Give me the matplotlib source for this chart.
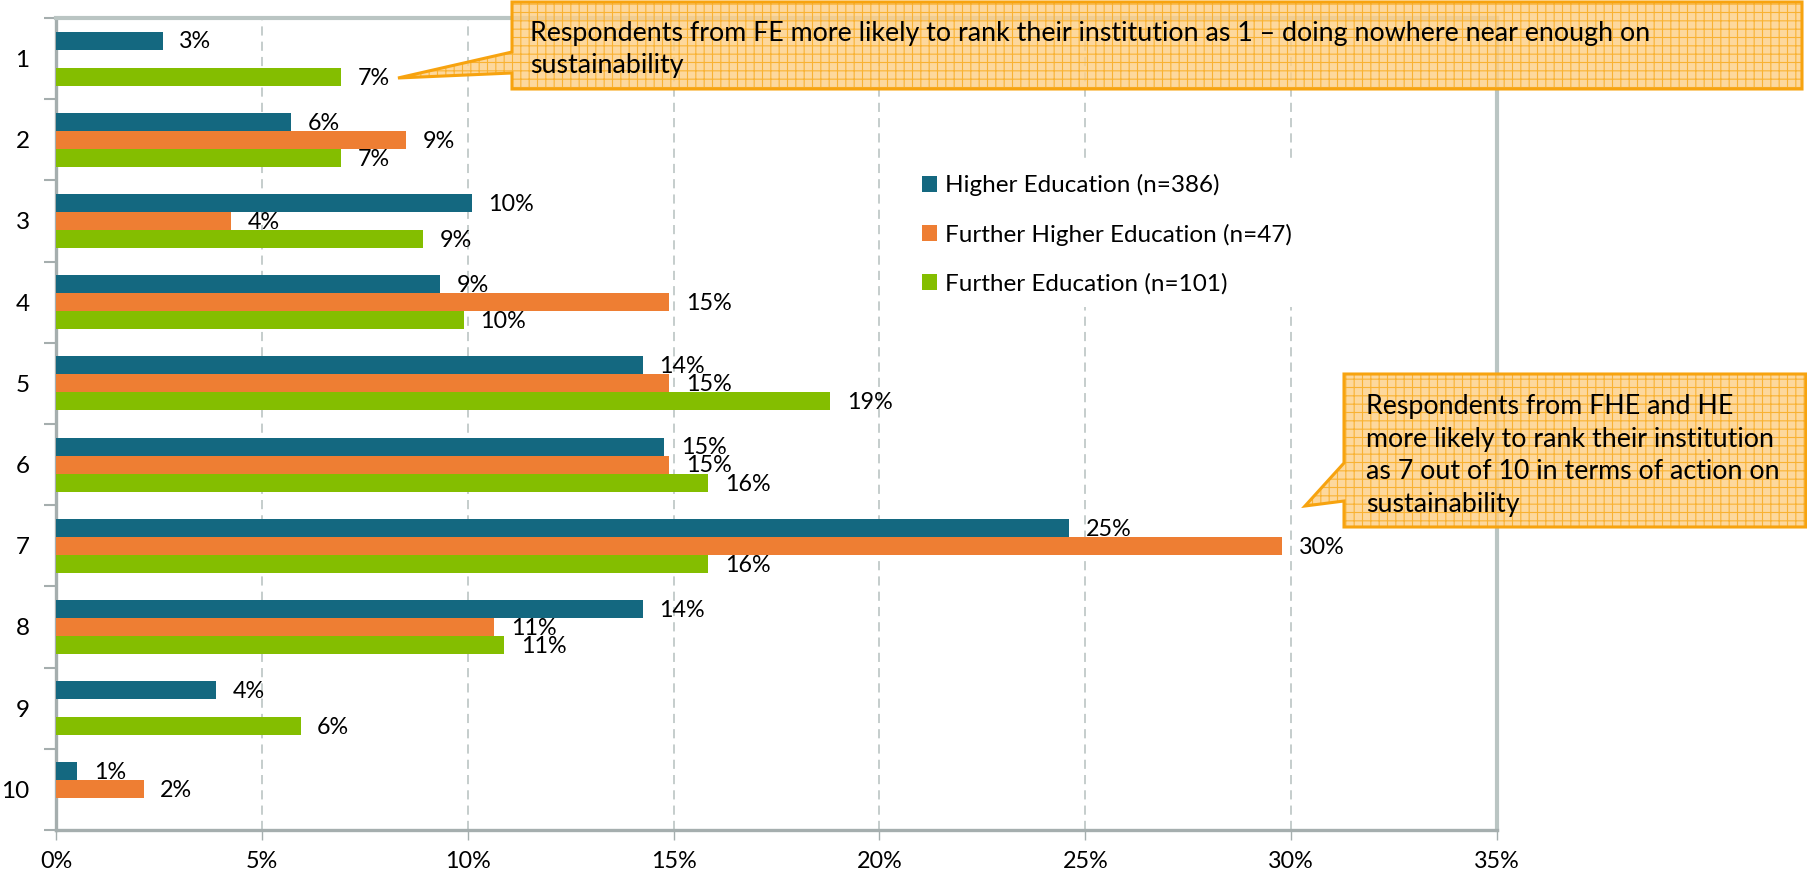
import matplotlib
matplotlib.use("Agg")
from matplotlib import pyplot as plt
from matplotlib.patches import Polygon, Patch
import numpy as np

plt.rcParams['font.family'] = ['Lato', 'DejaVu Sans']
plt.rcParams['hatch.linewidth'] = 0.8

# datos (porcentajes)
categorias = ['1', '2', '3', '4', '5', '6', '7', '8', '9', '10']
higher_ed = [2.59, 5.70, 10.10, 9.33, 14.25, 14.77, 24.61, 14.25, 3.89, 0.52]
further_higher_ed = [0, 8.51, 4.26, 14.89, 14.89, 14.89, 29.79, 10.64, 0, 2.13]
further_ed = [6.93, 6.93, 8.91, 9.90, 18.81, 15.84, 15.84, 10.89, 5.94, 0]
series_labels = ['Higher Education (n=386)',
                 'Further Higher Education (n=47)',
                 'Further Education (n=101)']
x_ticks = [0, 5, 10, 15, 20, 25, 30, 35]

colores = ['#146880', '#ee7e33', '#84be00']

W, H = 1807, 881
fig = plt.figure(figsize=(W / 100, H / 100), dpi=100)

# area del grafico en pixeles: izq 56, der 1497, arriba 18, abajo 830
ax = fig.add_axes([56 / W, 1 - 830 / H, (1497 - 56) / W, (830 - 18) / H])

y = np.arange(len(categorias))
alto = 0.222
series = [higher_ed, further_higher_ed, further_ed]
for k, (vals, col, lab) in enumerate(zip(series, colores, series_labels)):
    pos = y + (k - 1) * alto
    ax.barh(pos, vals, height=alto, color=col, label=lab, zorder=3)
    for p, v in zip(pos, vals):
        if v > 0:
            ax.annotate(f"{round(v)}%", (v, p), xytext=(12, -1),
                        textcoords='offset points', va='center', ha='left',
                        fontsize=16.8, color='black', zorder=4)

ax.set_xlim(0, 35)
ax.set_ylim(len(categorias) - 0.5, -0.5)

ax.set_xticks(x_ticks)
ax.set_xticklabels([f"{t}%" for t in x_ticks], fontsize=16.8)
ax.tick_params(axis='x', length=7, width=1, color='#a5aeae', pad=8)

# ticks del eje y en los limites de categoria, etiquetas al centro
ax.set_yticks(np.arange(len(categorias) + 1) - 0.5)
ax.set_yticklabels([])
ax.set_yticks(y, minor=True)
ax.set_yticklabels(categorias, minor=True, fontsize=17.5)
ax.tick_params(axis='y', which='major', length=9, width=1.5, color='#a5aeae')
ax.tick_params(axis='y', which='minor', length=0, pad=19)

ax.grid(axis='x', color='#b5c0be', linestyle=(0, (6, 4)), linewidth=1.1, zorder=0)
for lado in ['left', 'bottom']:
    ax.spines[lado].set_color('#a5aeae')
    ax.spines[lado].set_linewidth(2.4)
for lado in ['top', 'right']:
    ax.spines[lado].set_color('#bac5c3')
    ax.spines[lado].set_linewidth(3)

handles = [Patch(facecolor=c, edgecolor='none') for c in colores]
leg = ax.legend(handles, series_labels, loc='upper left',
                bbox_to_anchor=(910 / W, 1 - 162 / H), bbox_transform=fig.transFigure,
                fontsize=17.5, frameon=True, framealpha=1, facecolor='white',
                edgecolor='none', fancybox=False, borderpad=0.5, borderaxespad=0,
                handlelength=0.62, handleheight=0.62, handletextpad=0.3,
                labelspacing=1.13)
leg.set_zorder(5)

# capa superior en pixeles para las llamadas
over = fig.add_axes([0, 0, 1, 1])
over.set_xlim(0, W)
over.set_ylim(H, 0)
over.axis('off')
over.set_zorder(10)

relleno = (0.992, 0.816, 0.533, 0.82)
rayas = '#f9b233'
borde = '#f7a30f'

llamada1 = [(512, 2), (1802, 2), (1802, 89), (512, 89), (512, 73), (398, 78), (512, 52)]
llamada2 = [(1344, 374), (1806, 374), (1806, 527), (1344, 527), (1344, 501), (1305, 506), (1344, 463)]
for pts in [llamada1, llamada2]:
    over.add_patch(Polygon(pts, closed=True, facecolor=relleno, edgecolor=rayas,
                           linewidth=0, hatch='++'))
    over.add_patch(Polygon(pts, closed=True, fill=False, edgecolor=borde,
                           linewidth=2.2, joinstyle='miter'))

over.text(530, 49.5,
          "Respondents from FE more likely to rank their institution as 1 \u2013 doing nowhere near enough on\nsustainability",
          ha='left', va='center', fontsize=19.3, linespacing=1.38)
over.text(1366, 455.5,
          "Respondents from FHE and HE\nmore likely to rank their institution\nas 7 out of 10 in terms of action on\nsustainability",
          ha='left', va='center', fontsize=19.3, linespacing=1.38)

fig.savefig('out.png', dpi=100)
